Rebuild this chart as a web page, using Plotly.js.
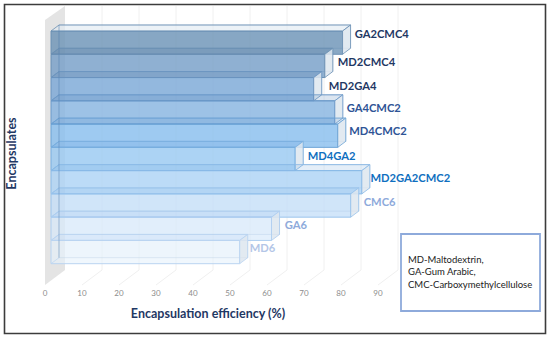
<!DOCTYPE html>
<html><head><meta charset="utf-8">
<script src="https://cdn.plot.ly/plotly-3.0.1.min.js"></script>
<style>html,body{margin:0;padding:0;background:#fff}#c{width:550px;height:338px}</style>
</head><body><div id="c"></div>
<script>
// ---- data ----
const categories = ["GA2CMC4","MD2CMC4","MD2GA4","GA4CMC2","MD4CMC2","MD4GA2","MD2GA2CMC2","CMC6","GA6","MD6"];
const efficiency = [78.8,74,71,76.7,77.5,66,84,81,59.6,51];
const xTicks = [0,10,20,30,40,50,60,70,80,90];
const legendLines = ["MD-Maltodextrin,","GA-Gum Arabic,","CMC-Carboxymethylcellulose"];
// ---- style ----
const frontColors = ["rgba(104,143,179,.78)","rgba(110,153,196,.76)","rgba(112,161,212,.74)","rgba(125,174,222,.74)","rgba(130,186,236,.76)","rgba(148,198,240,.76)","rgba(170,209,245,.76)","rgba(193,221,248,.72)","rgba(214,232,250,.66)","rgba(230,242,252,.6)"];
const edgeColors = ["#6b90b4","#6b90b4","#6b94bf","#6b99c9","#6ba3d6","#78aee0","#8abae7","#9bc4ec","#aecef0","#bad4f1"];
const topColors = ["rgba(225,233,242,.5)","rgba(70,110,155,.18)","rgba(70,115,165,.17)","rgba(75,125,180,.16)","rgba(75,135,200,.15)","rgba(85,145,210,.14)","rgba(100,160,225,.13)","rgba(110,165,230,.11)","rgba(120,170,235,.09)","rgba(130,175,235,.07)"];
const labelColors = ["#1f3864","#1f3864","#1f3864","#2f5496","#2f5496","#0f6fc0","#0f6fc0","#8eaadb","#8eaadb","#b4c6e7"];
const labelNudge = [-.31,-.1,-.1,-.13,-.17,-.09,-.15,-.1,-.09,-.13];
const labelGapPx = [4.1,4.9,7,3.9,3.5,4.5,.7,5,5.2,2];
const PXX = 3.7, PXY = 23.27, DX = 8/PXX, DY = 6/PXY;
const W = 550, H = 338, DOMH = 307;
const tickBackOffset = 14/PXX, tickFrontOffset = -6/PXX;
const idx = categories.map((c,i)=>i);

const traces = [];
traces.push({type:"bar",orientation:"h",y:idx,x:efficiency,width:1,xaxis:"x",yaxis:"y",customdata:categories,
  marker:{color:frontColors,line:{color:edgeColors,width:1}},hoverinfo:"x+y"});
// top and side faces of each box, from the same values
categories.forEach((c,i)=>{
  const v = efficiency[i], t = i-.5, b = i+.5;
  traces.push({type:"scatter",mode:"lines",fill:"toself",fillcolor:topColors[i],
    x:[0,DX,v+DX,v,0],y:[t,t-DY,t-DY,t,t],line:{color:edgeColors[i],width:.8},hoverinfo:"skip",xaxis:"x",yaxis:"y"});
  traces.push({type:"scatter",mode:"lines",fill:"toself",fillcolor:"rgba(222,230,238,.85)",
    x:[v,v+DX,v+DX,v,v],y:[t,t-DY,b-DY,b,t],line:{color:edgeColors[i],width:.8},hoverinfo:"skip",xaxis:"x",yaxis:"y"});
  traces.push({type:"scatter",mode:"lines",x:[0,DX],y:[b,b-DY],line:{color:edgeColors[i],width:.7},hoverinfo:"skip",xaxis:"x",yaxis:"y"});
});
// inner back edge
traces.push({type:"scatter",mode:"lines",x:[DX,DX],y:[-.5-DY,categories.length-.5-DY],line:{color:"rgba(90,130,175,.55)",width:.8},hoverinfo:"skip",xaxis:"x",yaxis:"y"});
// bar labels
traces.push({type:"scatter",mode:"text",x:efficiency.map((v,i)=>v+DX+labelGapPx[i]/PXX),y:idx.map(i=>i+labelNudge[i]),
  text:categories,textposition:"middle right",textfont:{family:"Lato",size:11.2,color:labelColors,weight:700},hoverinfo:"skip",xaxis:"x",yaxis:"y"});
// invisible trace so the tick axis is live
traces.push({type:"scatter",mode:"markers",x:xTicks,y:xTicks.map(()=>0),marker:{opacity:0,size:1},xaxis:"x2",yaxis:"y",hoverinfo:"skip"});

const yBack = 270, yTopBack = 6, yFront = 285;
const yOf = p => (p-31)/PXY - .5;
const shapes = [];
// side wall
shapes.push({type:"path",layer:"below",xref:"x",yref:"y",line:{width:0},fillcolor:"#e4e4e4",
  path:`M ${-6/PXX} ${yOf(20)} L ${tickBackOffset} ${yOf(yTopBack)} L ${tickBackOffset} ${yOf(yBack)} L ${-6/PXX} ${yOf(yFront)} Z`});
// back gridlines and floor lines
xTicks.forEach(t=>{
  if(t>0) shapes.push({type:"line",layer:"below",xref:"x",yref:"y",x0:t+tickBackOffset,x1:t+tickBackOffset,y0:yOf(yTopBack),y1:yOf(yBack),line:{color:"#f0f0f0",width:1}});
  if(t>0) shapes.push({type:"line",layer:"below",xref:"x",yref:"y",x0:t+tickBackOffset,x1:t+tickFrontOffset,y0:yOf(yBack),y1:yOf(yFront),line:{color:"#f0f0f0",width:1}});
});
// back faces
categories.forEach((c,i)=>{
  shapes.push({type:"rect",layer:"below",xref:"x",yref:"y",x0:DX,x1:efficiency[i]+DX,y0:i-.5-DY,y1:i+.5-DY,line:{color:"rgba(120,155,195,.6)",width:.7},fillcolor:"rgba(225,235,245,.25)"});
});
// outer frame and note box
shapes.push({type:"rect",xref:"paper",yref:"paper",x0:4.5/W,x1:545.5/W,y0:1-333.5/H,y1:1-4.5/H,line:{color:"#3c3c3c",width:1.6},layer:"above"});
shapes.push({type:"rect",xref:"paper",yref:"paper",x0:401/W,x1:540/W,y0:1-311/H,y1:1-234/H,line:{color:"#8eaadb",width:1.8},fillcolor:"#fff",layer:"above"});

const layout = {
  width:W,height:H,margin:{l:0,r:0,t:0,b:0},paper_bgcolor:"#fff",plot_bgcolor:"rgba(0,0,0,0)",showlegend:false,
  font:{family:"Lato"},
  xaxis:{domain:[0,1],range:[-51/PXX,(W-51)/PXX],visible:false,anchor:"y",fixedrange:true},
  xaxis2:{domain:[0,416/W],range:[-45/PXX,(416-45)/PXX],side:"bottom",anchor:"free",position:1-287/H,
    tickmode:"array",tickvals:xTicks,ticktext:xTicks.map(String),ticklen:0,showgrid:false,zeroline:false,showline:false,
    tickfont:{family:"Lato",size:8,color:"#8c8c8c"},
    title:{text:"Encapsulation efficiency (%)",font:{family:"Lato",size:12.5,color:"#1f3864",weight:700},standoff:12}},
  yaxis:{domain:[1-DOMH/H,1],range:[(DOMH-31)/PXY-.5,-31/PXY-.5],anchor:"free",position:21/W,side:"left",
    tickvals:idx,showticklabels:false,ticklen:0,showgrid:false,zeroline:false,showline:false,
    title:{text:"Encapsulates",font:{family:"Lato",size:12.5,color:"#1f3864",weight:700},standoff:0}},
  shapes:shapes,
  annotations:[{xref:"paper",yref:"paper",x:406/W,y:1-272/H,xanchor:"left",yanchor:"middle",align:"left",showarrow:false,
    text:legendLines.join("<br>"),font:{family:"Lato",size:9.5,color:"#222"}}]
};
Plotly.newPlot("c",traces,layout,{displayModeBar:false,staticPlot:true});
</script></body></html>
